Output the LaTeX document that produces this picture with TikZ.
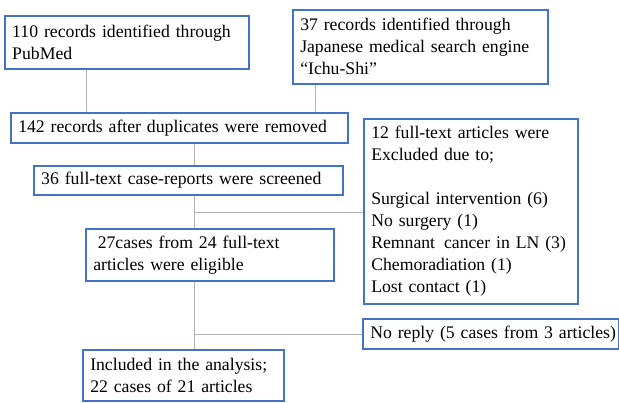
\documentclass[tikz,border=0pt]{standalone}
\usepackage{fontspec}
\setmainfont{Liberation Serif}
\definecolor{boxblue}{RGB}{68,114,196}
\definecolor{conngray}{RGB}{178,178,178}
\begin{document}
\begin{tikzpicture}[x=1pt,y=1pt,
  flowbox/.style={draw=boxblue, line width=1.5pt, fill=white, rectangle, anchor=north west,
    inner xsep=7.5pt, inner ysep=0pt, align=left,
    font=\fontsize{17.7}{22}\selectfont},
  conn/.style={draw=conngray, line width=1pt}]
\useasboundingbox (0,0) rectangle (619,-402);
\fill[white] (0,0) rectangle (619,-402);

\node[flowbox, minimum width=244pt, minimum height=53pt, text width=229pt] (b1) at (4,-15)
  {\mbox{110 records identified through}\\\mbox{PubMed}};
\node[flowbox, minimum width=255pt, minimum height=74pt, text width=240pt] (b2) at (292,-9)
  {\mbox{37 records identified through}\\\mbox{Japanese medical search engine}\\\mbox{“Ichu-Shi”}};
\node[flowbox, minimum width=337pt, minimum height=30pt, text width=322pt] (b3) at (10,-112)
  {\mbox{142 records after duplicates were removed}};
\node[flowbox, minimum width=214pt, minimum height=185pt, text width=199pt] (bx) at (363,-118)
  {\mbox{12 full-text articles were}\\\mbox{Excluded due to;}\\[22pt]\mbox{Surgical intervention (6)}\\\mbox{No surgery (1)}\\\mbox{Remnant\hspace{3pt} cancer in LN (3)}\\\mbox{Chemoradiation (1)}\\\mbox{Lost contact (1)}};
\node[flowbox, minimum width=309pt, minimum height=29pt, text width=294pt] (b36) at (33,-165)
  {\mbox{36 full-text case-reports were screened}};
\node[flowbox, minimum width=248pt, minimum height=52pt, text width=233pt] (b27) at (85,-228)
  {\mbox{\hspace{4.5pt}27cases from 24 full-text}\\\mbox{articles were eligible}};
\node[flowbox, minimum width=256pt, minimum height=30pt, text width=241pt] (bnr) at (362,-318)
  {\mbox{No reply (5 cases from 3 articles)}};
\node[flowbox, minimum width=201pt, minimum height=51pt, text width=186pt] (binc) at (82,-349)
  {\mbox{Included in the analysis;}\\\mbox{22 cases of 21 articles}};

\draw[conn] ([xshift=82pt]b1.south west) coordinate (c1) -- (c1 |- b3.north);
\draw[conn] ([xshift=23pt]b2.south west) coordinate (c2) -- (c2 |- b3.north);
\draw[conn] ([xshift=184pt]b3.south west) coordinate (c3) -- (c3 |- b36.north);
\draw[conn] ([xshift=161pt]b36.south west) coordinate (c4) -- (c4 |- b27.north);
\coordinate (j1) at ([yshift=-17pt]c4);
\draw[conn] (j1) -- (j1 -| bx.west);
\draw[conn] ([xshift=109pt]b27.south west) coordinate (c5) -- (c5 |- binc.north);
\coordinate (j2) at ([yshift=-53pt]c5);
\draw[conn] (j2) -- (j2 -| bnr.west);
\end{tikzpicture}
\end{document}
